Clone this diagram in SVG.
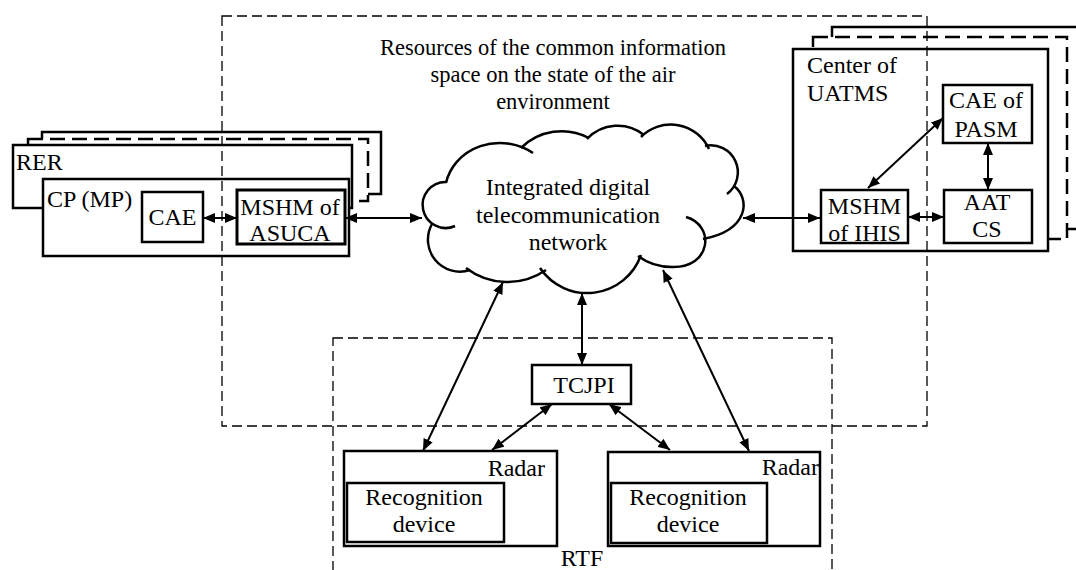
<svg xmlns="http://www.w3.org/2000/svg" width="1076" height="570" viewBox="0 0 1076 570">
<style>
text{font-family:"Liberation Serif","Times New Roman",serif;font-size:24px;fill:#000}
.t{font-size:22.5px}
.m{text-anchor:middle}
.e{text-anchor:end}
.box{fill:#fff;stroke:#000;stroke-width:2.5}
.dbox{fill:#fff;stroke:#000;stroke-width:2.5;stroke-dasharray:15 7}
.area{fill:none;stroke:#000;stroke-width:1.3;stroke-dasharray:10 5}
.cl{fill:none;stroke:#000;stroke-width:2.5}
.c{fill:none;stroke:#000;stroke-width:2;marker-start:url(#ah);marker-end:url(#ah)}
</style>
<defs>
<marker id="ah" viewBox="0 0 12 10" refX="12" refY="5" markerWidth="12" markerHeight="10" markerUnits="userSpaceOnUse" orient="auto-start-reverse"><path d="M0,0 L12,5 L0,10 z" fill="#000"/></marker>
</defs>
<rect width="1076" height="570" fill="#fff"/>

<g id="rer-stack">
<rect class="box" x="42" y="132" width="339" height="62"/>
<rect class="dbox" x="28" y="139" width="340" height="62"/>
<rect class="box" x="13" y="145" width="339" height="63"/>
<text x="16" y="170">RER</text>
</g>
<g id="cp">
<rect class="box" x="43" y="179" width="306" height="77"/>
<text x="47" y="207">CP (MP)</text>
</g>
<g id="cae">
<rect class="box" x="142" y="192" width="61" height="50"/>
<text class="m" x="172.5" y="225">CAE</text>
</g>
<g id="mshm-asuca">
<rect class="box" x="237" y="190" width="108" height="54" style="stroke-width:3"/>
<text class="m" x="290" y="215">MSHM of</text>
<text class="m" x="290" y="241">ASUCA</text>
</g>

<g id="uatms-stack">
<rect class="box" x="832" y="27" width="270" height="202"/>
<rect class="dbox" x="813" y="37" width="254" height="202"/>
<rect class="box" x="793" y="49" width="255" height="202"/>
<text x="807" y="73">Center of</text>
<text x="807" y="101">UATMS</text>
</g>
<g id="cae-pasm">
<rect class="box" x="943" y="85" width="89" height="58"/>
<text class="m" x="986" y="108">CAE of</text>
<text class="m" x="986" y="137">PASM</text>
</g>
<g id="aat-cs">
<rect class="box" x="944" y="190" width="88" height="53"/>
<text class="m" x="987" y="210">AAT</text>
<text class="m" x="987" y="237">CS</text>
</g>
<g id="mshm-ihis">
<rect class="box" x="821" y="190" width="87" height="53"/>
<text class="m" x="864.5" y="214">MSHM</text>
<text class="m" x="864.5" y="241">of IHIS</text>
</g>

<g id="cloud">
<path class="cl" d="M455,226 A23 23 0 1 1 446,182"/>
<path class="cl" d="M446,183 A55 50 0 0 1 533,153"/>
<path class="cl" d="M521,148 A58 58 0 0 1 589,138"/>
<path class="cl" d="M587,139 A42 42 0 0 1 644,135"/>
<path class="cl" d="M641,137 A42 42 0 0 1 709,149"/>
<path class="cl" d="M705,146 A27 27 0 0 1 727,194"/>
<path class="cl" d="M734,186 C750,198 750,230 703,239"/>
<path class="cl" d="M686,217 C715,225 712,268 672,267 C658,267 646,262 638,256"/>
<path class="cl" d="M641,255 A57 57 0 0 1 540,268"/>
<path class="cl" d="M546,270 A68 68 0 0 1 466,268"/>
<path class="cl" d="M470,270 A32 32 0 0 1 432,224"/>
<text class="m" x="568" y="195">Integrated digital</text>
<text class="m" x="568" y="223">telecommunication</text>
<text class="m" x="568" y="250">network</text>
</g>

<g id="tcjpi">
<rect class="box" x="532" y="365" width="99" height="39"/>
<text class="m" x="584" y="393">TCJPI</text>
</g>
<g id="radar-left">
<rect class="box" x="344" y="451" width="213" height="95"/>
<text class="e" x="545" y="476">Radar</text>
<rect class="box" x="347" y="483" width="157" height="59"/>
<text class="m" x="424" y="505">Recognition</text>
<text class="m" x="424" y="532">device</text>
</g>
<g id="radar-right">
<rect class="box" x="608" y="452" width="212" height="94"/>
<text class="e" x="819" y="475">Radar</text>
<rect class="box" x="611" y="483" width="156" height="60"/>
<text class="m" x="688" y="505">Recognition</text>
<text class="m" x="688" y="532">device</text>
</g>

<g id="resources-area">
<rect class="area" x="222" y="16" width="705" height="410"/>
<text class="m t" x="553" y="55">Resources of the common information</text>
<text class="m t" x="553" y="82">space on the state of the air</text>
<text class="m t" x="553" y="109">environment</text>
</g>
<g id="rtf-area">
<rect class="area" x="333" y="338" width="499" height="300"/>
<text class="m" x="582" y="566">RTF</text>
</g>

<g id="connectors">
<line class="c" x1="203" y1="218" x2="237" y2="218"/>
<line class="c" x1="345" y1="218" x2="422" y2="218"/>
<line class="c" x1="743" y1="218" x2="820" y2="218"/>
<line class="c" x1="908" y1="217" x2="944" y2="217"/>
<line class="c" x1="988" y1="143" x2="988" y2="190"/>
<line class="c" x1="868" y1="188" x2="943" y2="118"/>
<line class="c" x1="582" y1="293" x2="582" y2="365"/>
<line class="c" x1="503" y1="282" x2="423" y2="451"/>
<line class="c" x1="663" y1="270" x2="749" y2="451"/>
<line class="c" x1="552" y1="404" x2="492" y2="450"/>
<line class="c" x1="609" y1="404" x2="670" y2="450"/>
</g>
</svg>
